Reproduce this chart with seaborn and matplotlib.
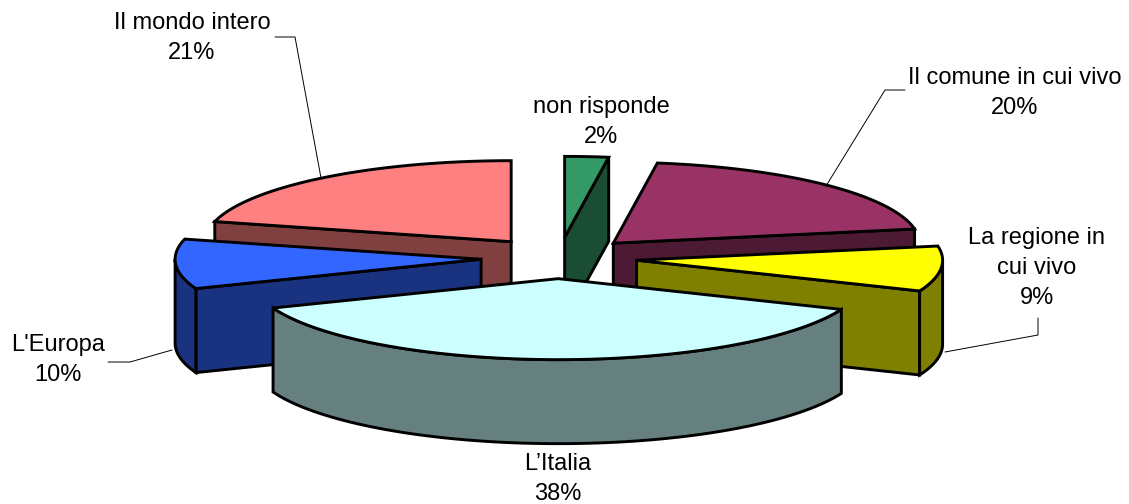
import matplotlib
matplotlib.use('AGG')
import matplotlib.pyplot as plt
import seaborn as sns
import numpy as np

# slices clockwise from 12 o'clock
names = ['non risponde', 'Il comune in cui vivo', 'La regione in\ncui vivo',
         'L\u2019Italia', "L'Europa", 'Il mondo intero']
values = [2.3, 19.9, 9.0, 37.9, 9.9, 21.0]
colors = ['#339966', '#993366', '#FFFF00', '#CCFFFF', '#3366FF', '#FF8080']

# label centre and leader line per slice, in pixels of the picture
label_pos = [(601, 122), (1015, 93), (1037, 268), (558, 479), (58, 360), (192, 38)]
leaders = [None,
           [(905, 90), (885, 90), (826, 186)],
           [(1038, 318), (1038, 335), (945, 352)],
           None,
           [(108, 362), (130, 362), (172, 350)],
           [(275, 37), (295, 37), (321, 178)]]

CX, CY = 559, 258     # pie centre
RX, RY = 306, 81      # ellipse of the top face
DEPTH = 84
EXPLODE = 0.255


def rim(apex, a0, a1):
    t = np.radians(np.linspace(a0, a1, 80))
    return np.column_stack([apex[0] + RX * np.sin(t), apex[1] - RY * np.cos(t)])


def draw_slice(ax, a0, a1, color):
    side = tuple(c * 0.5 for c in color)
    style = dict(edgecolor='black', linewidth=2.1, joinstyle='miter')
    mid = np.radians((a0 + a1) / 2)
    apex = (CX + EXPLODE * RX * np.sin(mid), CY - EXPLODE * RY * np.cos(mid))
    down = np.array([0, DEPTH])

    # radial faces, only the ones turned to the viewer
    for ang, show in ((a0, np.sin(np.radians(a0)) < -1e-6), (a1, np.sin(np.radians(a1)) > 1e-6)):
        if show:
            tip = rim(apex, ang, ang)[0]
            pts = np.array([apex, tip, tip + down, apex + down])
            ax.fill(pts[:, 0], pts[:, 1], facecolor=side, **style)

    # outer wall on the front half
    lo, hi = max(a0, 90), min(a1, 270)
    if lo < hi:
        arc = rim(apex, lo, hi)
        pts = np.vstack([arc, arc[::-1] + down])
        ax.fill(pts[:, 0], pts[:, 1], facecolor=side, **style)

    top = np.vstack([[apex], rim(apex, a0, a1)])
    ax.fill(top[:, 0], top[:, 1], facecolor=color, **style)


sns.set_theme(style='white')
plt.rcParams['font.family'] = ['Liberation Sans', 'DejaVu Sans']

fig = plt.figure(figsize=(11.29, 5.04), dpi=100)
ax = fig.add_axes([0, 0, 1, 1])
ax.set_xlim(0, 1129)
ax.set_ylim(504, 0)
ax.axis('off')

palette = sns.color_palette(colors)
edges = np.concatenate([[0], np.cumsum(values)]) / np.sum(values) * 360
mids = (edges[:-1] + edges[1:]) / 2
# back slices first
order = np.argsort(np.cos(np.radians(mids)))[::-1]
for i in order:
    draw_slice(ax, edges[i], edges[i + 1], palette[i])

for i, name in enumerate(names):
    x, y = label_pos[i]
    ax.text(x, y, f'{name}\n{round(values[i])}%', ha='center', va='center',
            fontsize=17, color='black', linespacing=1.45)
    if leaders[i]:
        xs, ys = zip(*leaders[i])
        ax.plot(xs, ys, color='black', lw=0.7)

fig.savefig('out.png', dpi=100)
